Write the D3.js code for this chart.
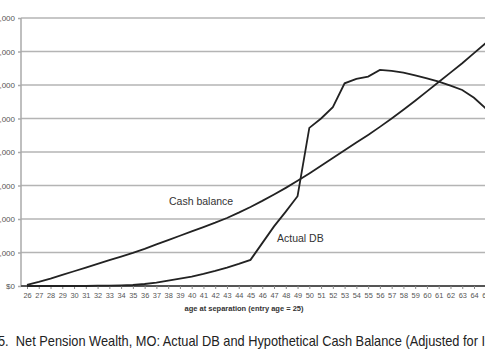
<!DOCTYPE html>
<html><head><meta charset="utf-8">
<script src="https://cdn.jsdelivr.net/npm/d3@7"></script>
<style>html,body{margin:0;padding:0;background:#fff;overflow:hidden}svg{display:block}</style>
</head><body>
<script>
// Age at separation (entry age = 25)
const ages = [26,27,28,29,30,31,32,33,34,35,36,37,38,39,40,41,42,43,44,45,46,47,48,49,50,51,52,53,54,55,56,57,58,59,60,61,62,63,64,65,66];
// Net pension wealth, thousands of dollars
const cashBalance = [1.5,6,11,16.5,22,27.5,33,38.5,44,49.5,55.5,62,68.5,75,81.5,88,94.5,101.5,109.5,118,127,136.5,146.5,157,168,179.5,191,202.5,214,225.5,237.5,250,263,276.5,290.5,304.5,318.5,332.5,347.5,362.5,378];
const actualDB = [0,0,0,0,0,0,0.5,0.5,1,1.5,3,5,8,11,14,18,22.5,27.5,33,39,64,89,111,134,236,250,267,302.5,309,312.5,322.5,321,318.5,314.5,310,305,299,292.5,281,265,240];
const yTicks = [0,50,100,150,200,250,300,350,400];
const titleText = "5.  Net Pension Wealth, MO: Actual DB and Hypothetical Cash Balance (Adjusted for Inflation)";
const xLabel = "age at separation (entry age = 25)";

const W = 485, H = 360;
const svg = d3.select("body").append("svg").attr("width", W).attr("height", H);
const x = d3.scaleLinear().domain([26,64]).range([27,474]);
const y = d3.scaleLinear().domain([0,400]).range([286,18]);
const font = "'Liberation Sans', Arial, sans-serif";

// gridlines
svg.append("g").selectAll("line").data(yTicks.filter(d=>d>0)).join("line")
  .attr("x1", 21).attr("x2", W).attr("y1", d=>y(d)).attr("y2", d=>y(d))
  .attr("stroke", "#b4b4b4").attr("stroke-width", 1.5);

// y axis
const yAxis = d3.axisLeft(y).tickValues(yTicks).tickSize(3)
  .tickFormat(d => d===0 ? "$0" : "$" + d + ",000");
const gy = svg.append("g").attr("transform","translate(21,0)").call(yAxis);
gy.select(".domain").attr("stroke","#aaa").attr("stroke-width",1.5).attr("d","M0,18V286");
gy.selectAll(".tick line").attr("stroke","#aaa").attr("stroke-width",1.5);
gy.selectAll("text").attr("font-family", font).attr("font-size", 8).attr("fill","#555").attr("x",-6);

// x axis
const xAxis = d3.axisBottom(x).tickValues(ages).tickSize(3).tickFormat(d=>d);
const gx = svg.append("g").attr("transform","translate(0,286)").call(xAxis);
gx.select(".domain").attr("stroke","#555").attr("stroke-width",1.8).attr("d","M21,0H"+W);
gx.selectAll(".tick line").attr("stroke","#888").attr("stroke-width",1);
gx.selectAll("text").attr("font-family", font).attr("font-size", 7.4).attr("fill","#555").attr("dy","0.9em").attr("y",5);

svg.append("text").attr("x", 244).attr("y", 311).attr("text-anchor","middle")
  .attr("font-family", font).attr("font-size", 7.5).attr("font-weight","bold").attr("fill","#333").text(xLabel);

// lines
const lineGen = vals => d3.line().x((d,i)=>x(ages[i])).y(d=>y(d))(vals);
svg.append("path").attr("d", lineGen(cashBalance)).attr("fill","none").attr("stroke","#222").attr("stroke-width",1.8);
svg.append("path").attr("d", lineGen(actualDB)).attr("fill","none").attr("stroke","#222").attr("stroke-width",1.8);

// line labels
svg.append("text").attr("x",169).attr("y",205).attr("font-family",font).attr("font-size",10.5).attr("fill","#333").text("Cash balance");
svg.append("text").attr("x",277).attr("y",242).attr("font-family",font).attr("font-size",10.5).attr("fill","#333").text("Actual DB");

// title
svg.append("text").attr("transform","translate(-2,345.5) scale(0.915,1)")
  .attr("font-family",font).attr("font-size",14).attr("fill","#222").attr("xml:space","preserve").text(titleText);
</script>
</body></html>
